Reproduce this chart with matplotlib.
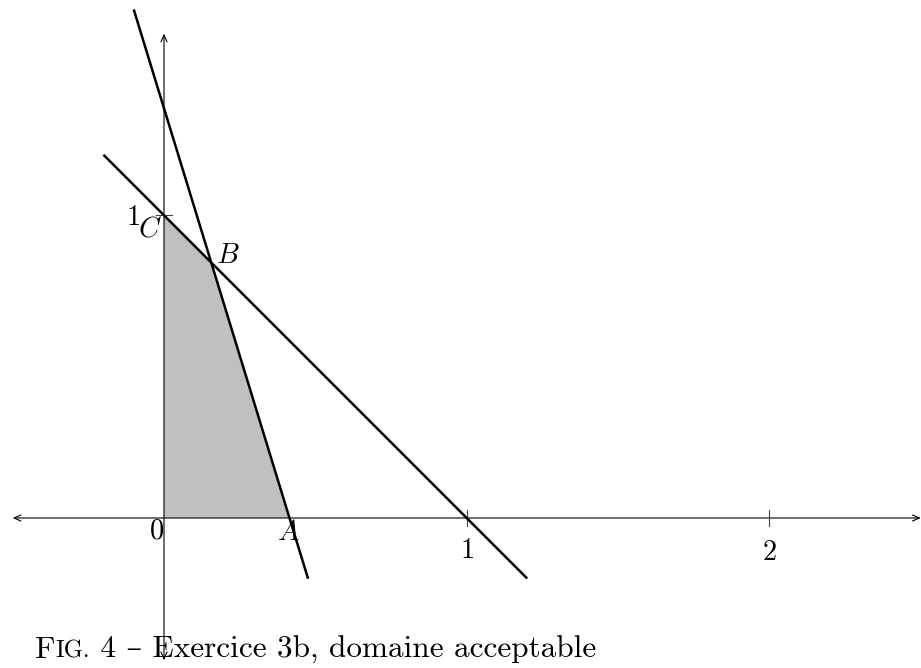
import numpy as np
import matplotlib
matplotlib.use('Agg')
import matplotlib.pyplot as plt
from matplotlib.patches import Polygon

plt.rcParams['mathtext.fontset'] = 'cm'

# axis ranges (arrows at both ends)
x_axis = [-0.5, 2.5]
y_axis = [-0.47, 1.6]
x_ticks = [1, 2]
y_ticks = [1]

# constraint lines: y = a + b*x, drawn over the given x range
line1 = dict(a=1.0, b=-1.0, x=[-0.2, 1.2])        # x + y = 1
line2 = dict(a=1.3535, b=-3.265, x=[-0.1, 0.476])  # steep constraint

caption_sc = ['F', 'IG.']
caption_rest = ' 4 \u2013 Exercice 3b, domaine acceptable'


def yline(l, x):
    return l['a'] + l['b'] * np.asarray(x)


fig = plt.figure(figsize=(9.21, 6.68), dpi=100)
ax = fig.add_axes([0, 0, 1, 1])
unit = 302.7
ox, oy = 164, 518
ax.set_xlim(-ox / unit, (921 - ox) / unit)
ax.set_ylim(-(668 - oy) / unit, oy / unit)
ax.axis('off')

# feasible region O, A, B, C
xa = -line2['a'] / line2['b']
xb = (line2['a'] - line1['a']) / (line1['b'] - line2['b'])
yb = yline(line1, xb)
region = [(0, 0), (xa, 0), (xb, yb), (0, line1['a'])]
ax.add_patch(Polygon(region, closed=True, facecolor='#c0c0c0', edgecolor='none', zorder=1))

# axes with arrows
arr = dict(arrowstyle='<->,head_length=0.5,head_width=0.22', shrinkA=0, shrinkB=0, lw=0.8, color='black')
ax.annotate('', xy=(x_axis[1], 0), xytext=(x_axis[0], 0), arrowprops=arr, zorder=2)
ax.annotate('', xy=(0, y_axis[1]), xytext=(0, y_axis[0]), arrowprops=arr, zorder=2)

for t in x_ticks:
    ax.plot([t, t], [-0.025, 0.025], color='#444444', lw=0.8, zorder=2)
for t in y_ticks:
    ax.plot([-0.025, 0.025], [t, t], color='#444444', lw=0.8, zorder=2)

# lines
for l in (line1, line2):
    ax.plot(l['x'], yline(l, l['x']), color='black', lw=1.8, solid_capstyle='butt', zorder=3)

fs = 20.5
ax.text(1, -0.106, '$1$', fontsize=fs, ha='center', va='center')
ax.text(2, -0.112, '$2$', fontsize=fs, ha='center', va='center')
ax.text(-0.102, 0.994, '$1$', fontsize=fs, ha='center', va='center')
ax.text(-0.026, -0.040, '$0$', fontsize=fs, ha='center', va='center')
ax.text(xa - 0.004, -0.046, '$A$', fontsize=fs, ha='center', va='center')
ax.text(xb + 0.055, yb + 0.025, '$B$', fontsize=fs, ha='center', va='center')
ax.text(-0.046, 0.958, '$C$', fontsize=fs, ha='center', va='center')

# caption in pixel coordinates
renderer = fig.canvas.get_renderer()
fam = ['cmr10', 'DejaVu Serif']
cfs = 22.5
x0, base = 35, 668 - 658
t1 = fig.text(x0 / 921, base / 668, caption_sc[0], fontsize=cfs, family=fam, va='baseline')
x1 = t1.get_window_extent(renderer).x1
t2 = fig.text(x1 / 921, base / 668, caption_sc[1], fontsize=cfs * 0.78, family=fam, va='baseline')
x2 = t2.get_window_extent(renderer).x1
fig.text(x2 / 921, base / 668, caption_rest, fontsize=cfs, family=fam, va='baseline')

fig.savefig('out.png', dpi=100)
